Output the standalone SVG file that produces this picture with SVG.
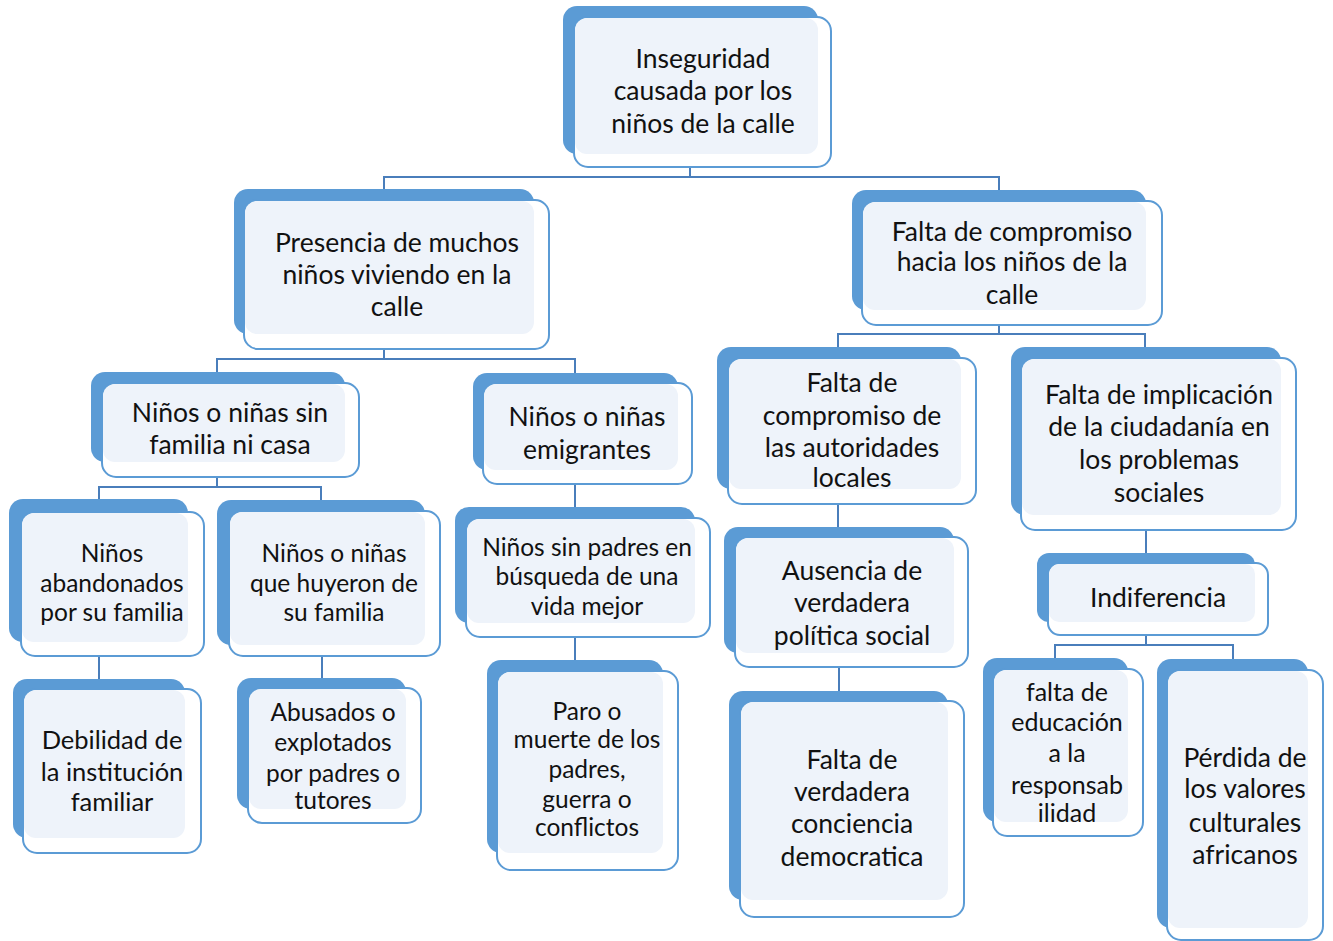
<svg xmlns="http://www.w3.org/2000/svg" width="1333" height="941" viewBox="0 0 1333 941">
<style>
.back{fill:#5b9bd5}
.front{fill:#ffffff;stroke:#5b9bd5;stroke-width:2}
.light{fill:#eef3fa}
.t{font-family:Lato,"Liberation Sans",sans-serif;font-size:26.5px;fill:#111;text-anchor:middle}
.s22{font-size:24.5px}
.s21{font-size:24.5px}
.s23{font-size:25.5px}
.s25{font-size:25px}
.conn{fill:none;stroke:#4a7ebb;stroke-width:2}
</style>
<rect x="0" y="0" width="1333" height="941" fill="#ffffff"/>
<g id="connectors" class="conn">
<path d="M690 167V177M384 189V177H999V190"/>
<path d="M384 349V359M217 372V359H575V373"/>
<path d="M217 477V487M99 499V487H321V500"/>
<path d="M575 484V507"/>
<path d="M575 637V660"/>
<path d="M99 656V679"/>
<path d="M322 656V678"/>
<path d="M999 325V334M838 347V334H1145V347"/>
<path d="M838 504V527"/>
<path d="M839 667V691"/>
<path d="M1146 530V553"/>
<path d="M1146 635V645M1055 658V645H1233V659"/>
</g>
<g id="node-inseguridad">
<rect class="back" x="563" y="6" width="255" height="148" rx="14"/>
<rect class="front" x="574" y="17" width="257" height="150" rx="14"/>
<rect class="light" x="575" y="18" width="243" height="136" rx="12"/>
<text class="t"><tspan x="703" y="68">Inseguridad</tspan><tspan x="703" y="100">causada por los</tspan><tspan x="703" y="133">niños de la calle</tspan></text>
</g>
<g id="node-presencia">
<rect class="back" x="234" y="189" width="300" height="145" rx="14"/>
<rect class="front" x="244" y="200" width="305" height="149" rx="14"/>
<rect class="light" x="245" y="201" width="289" height="133" rx="12"/>
<text class="t"><tspan x="397" y="252">Presencia de muchos</tspan><tspan x="397" y="284">niños viviendo en la</tspan><tspan x="397" y="316">calle</tspan></text>
</g>
<g id="node-falta-compromiso">
<rect class="back" x="852" y="190" width="294" height="120" rx="14"/>
<rect class="front" x="862" y="201" width="300" height="124" rx="14"/>
<rect class="light" x="863" y="202" width="283" height="108" rx="12"/>
<text class="t"><tspan x="1012" y="241">Falta de compromiso</tspan><tspan x="1012" y="271">hacia los niños de la</tspan><tspan x="1012" y="304">calle</tspan></text>
</g>
<g id="node-sin-familia">
<rect class="back" x="91" y="372" width="254" height="90" rx="14"/>
<rect class="front" x="102" y="383" width="257" height="94" rx="14"/>
<rect class="light" x="103" y="384" width="242" height="78" rx="12"/>
<text class="t"><tspan x="230" y="422">Niños o niñas sin</tspan><tspan x="230" y="454">familia ni casa</tspan></text>
</g>
<g id="node-emigrantes">
<rect class="back" x="473" y="373" width="205" height="97" rx="14"/>
<rect class="front" x="483" y="383" width="209" height="101" rx="14"/>
<rect class="light" x="484" y="384" width="194" height="86" rx="12"/>
<text class="t"><tspan x="587" y="426">Niños o niñas</tspan><tspan x="587" y="459">emigrantes</tspan></text>
</g>
<g id="node-sin-padres">
<rect class="back" x="455" y="507" width="240" height="116" rx="14"/>
<rect class="front" x="466" y="518" width="244" height="119" rx="14"/>
<rect class="light" x="467" y="519" width="228" height="104" rx="12"/>
<text class="t s21"><tspan x="587" y="556">Niños sin padres en</tspan><tspan x="587" y="585">búsqueda de una</tspan><tspan x="587" y="615">vida mejor</tspan></text>
</g>
<g id="node-paro">
<rect class="back" x="487" y="660" width="176" height="193" rx="14"/>
<rect class="front" x="497" y="671" width="181" height="199" rx="14"/>
<rect class="light" x="498" y="672" width="165" height="181" rx="12"/>
<text class="t s22"><tspan x="587" y="720">Paro o</tspan><tspan x="587" y="748">muerte de los</tspan><tspan x="587" y="778">padres,</tspan><tspan x="587" y="808">guerra o</tspan><tspan x="587" y="836">conflictos</tspan></text>
</g>
<g id="node-conciencia">
<rect class="back" x="729" y="691" width="219" height="209" rx="14"/>
<rect class="front" x="740" y="701" width="224" height="216" rx="14"/>
<rect class="light" x="741" y="702" width="207" height="198" rx="12"/>
<text class="t"><tspan x="852" y="769">Falta de</tspan><tspan x="852" y="801">verdadera</tspan><tspan x="852" y="833">conciencia</tspan><tspan x="852" y="866">democratica</tspan></text>
</g>
<g id="node-autoridades">
<rect class="back" x="717" y="347" width="244" height="142" rx="14"/>
<rect class="front" x="728" y="358" width="248" height="146" rx="14"/>
<rect class="light" x="729" y="359" width="232" height="130" rx="12"/>
<text class="t"><tspan x="852" y="392">Falta de</tspan><tspan x="852" y="425">compromiso de</tspan><tspan x="852" y="457">las autoridades</tspan><tspan x="852" y="487">locales</tspan></text>
</g>
<g id="node-ausencia">
<rect class="back" x="724" y="527" width="230" height="126" rx="14"/>
<rect class="front" x="735" y="537" width="233" height="130" rx="14"/>
<rect class="light" x="736" y="538" width="218" height="115" rx="12"/>
<text class="t"><tspan x="852" y="580">Ausencia de</tspan><tspan x="852" y="612">verdadera</tspan><tspan x="852" y="645">política social</tspan></text>
</g>
<g id="node-implicacion">
<rect class="back" x="1011" y="347" width="270" height="168" rx="14"/>
<rect class="front" x="1021" y="358" width="275" height="172" rx="14"/>
<rect class="light" x="1022" y="359" width="259" height="156" rx="12"/>
<text class="t"><tspan x="1159" y="404">Falta de implicación</tspan><tspan x="1159" y="436">de la ciudadanía en</tspan><tspan x="1159" y="469">los problemas</tspan><tspan x="1159" y="502">sociales</tspan></text>
</g>
<g id="node-indiferencia">
<rect class="back" x="1037" y="553" width="218" height="69" rx="12"/>
<rect class="front" x="1048" y="563" width="220" height="72" rx="12"/>
<rect class="light" x="1049" y="564" width="206" height="58" rx="10"/>
<text class="t"><tspan x="1158" y="607">Indiferencia</tspan></text>
</g>
<g id="node-educacion">
<rect class="back" x="983" y="658" width="145" height="164" rx="14"/>
<rect class="front" x="993" y="669" width="150" height="167" rx="14"/>
<rect class="light" x="994" y="670" width="134" height="152" rx="12"/>
<text class="t s25"><tspan x="1067" y="701">falta de</tspan><tspan x="1067" y="731">educación</tspan><tspan x="1067" y="762">a la</tspan><tspan x="1067" y="794">responsab</tspan><tspan x="1067" y="822">ilidad</tspan></text>
</g>
<g id="node-valores">
<rect class="back" x="1157" y="659" width="151" height="269" rx="14"/>
<rect class="front" x="1167" y="670" width="156" height="270" rx="14"/>
<rect class="light" x="1168" y="671" width="140" height="257" rx="12"/>
<text class="t"><tspan x="1245" y="767">Pérdida de</tspan><tspan x="1245" y="798">los valores</tspan><tspan x="1245" y="832">culturales</tspan><tspan x="1245" y="864">africanos</tspan></text>
</g>
<g id="node-abandonados">
<rect class="back" x="9" y="499" width="179" height="143" rx="14"/>
<rect class="front" x="21" y="512" width="183" height="144" rx="14"/>
<rect class="light" x="22" y="513" width="166" height="129" rx="12"/>
<text class="t s22"><tspan x="112" y="562">Niños</tspan><tspan x="112" y="592">abandonados</tspan><tspan x="112" y="621">por su familia</tspan></text>
</g>
<g id="node-huyeron">
<rect class="back" x="217" y="500" width="208" height="145" rx="14"/>
<rect class="front" x="229" y="511" width="211" height="145" rx="14"/>
<rect class="light" x="230" y="512" width="195" height="133" rx="12"/>
<text class="t s22"><tspan x="334" y="562">Niños o niñas</tspan><tspan x="334" y="592">que huyeron de</tspan><tspan x="334" y="621">su familia</tspan></text>
</g>
<g id="node-debilidad">
<rect class="back" x="13" y="679" width="172" height="159" rx="14"/>
<rect class="front" x="23" y="689" width="178" height="164" rx="14"/>
<rect class="light" x="24" y="690" width="161" height="148" rx="12"/>
<text class="t s23"><tspan x="112" y="749">Debilidad de</tspan><tspan x="112" y="781">la institución</tspan><tspan x="112" y="811">familiar</tspan></text>
</g>
<g id="node-abusados">
<rect class="back" x="237" y="678" width="169" height="131" rx="14"/>
<rect class="front" x="248" y="688" width="173" height="135" rx="14"/>
<rect class="light" x="249" y="689" width="157" height="120" rx="12"/>
<text class="t s22"><tspan x="333" y="721">Abusados o</tspan><tspan x="333" y="751">explotados</tspan><tspan x="333" y="782">por padres o</tspan><tspan x="333" y="809">tutores</tspan></text>
</g>
</svg>
